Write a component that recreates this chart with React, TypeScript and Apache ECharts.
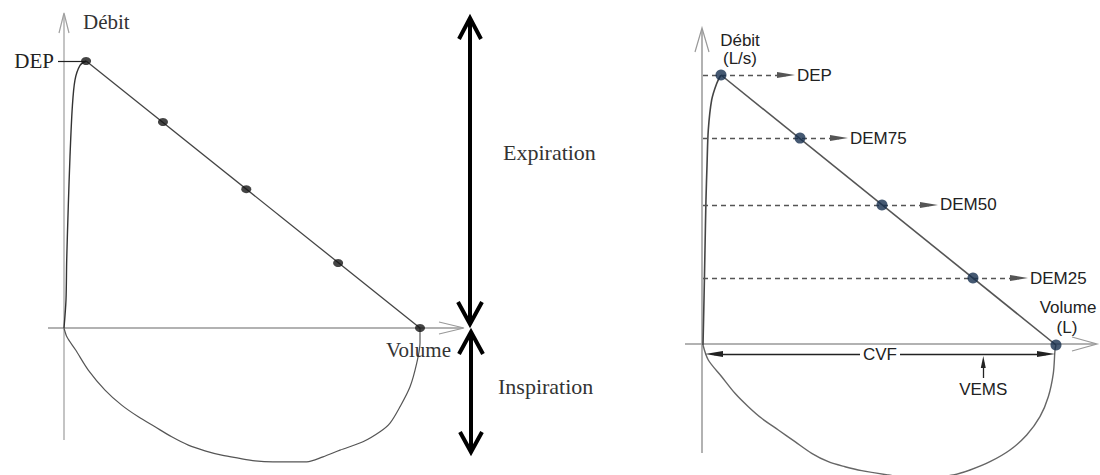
import React, { useEffect, useRef } from "react";
import * as echarts from "echarts";

// ---------------- Left panel data (volume L, flow L/s) ----------------
const leftRiseVolume = [0, 0.028, 0.038, 0.06, 0.084, 0.117, 0.154, 0.225, 0.31];
const leftRiseFlow = [0, 0.84, 2.04, 3.64, 5.13, 6.63, 7.43, 7.87, 8];
const leftPointVolume = [0.31, 1.39, 2.56, 3.85, 5.0];
const leftPointFlow = [8, 6.17, 4.16, 1.95, 0];
const leftInspVolume = [0, 0.042, 0.164, 0.341, 0.576, 0.81, 1.044, 1.278, 1.513, 1.746, 1.98, 2.215, 2.448, 2.683, 2.935, 3.409, 3.638, 3.876, 4.199, 4.438, 4.579, 4.719, 4.86, 4.954, 5.0, 5.0];
const leftInspFlow = [0, -0.27, -0.66, -1.26, -1.86, -2.31, -2.66, -2.96, -3.26, -3.51, -3.68, -3.81, -3.9, -3.98, -4.01, -4.01, -3.86, -3.66, -3.41, -3.11, -2.85, -2.36, -1.76, -1.05, -0.45, 0];
const leftDEP = 8;

// ---------------- Right panel data (volume L, flow L/s) ----------------
const rightRiseVolume = [0, 0.014, 0.028, 0.042, 0.057, 0.075, 0.123, 0.194, 0.255];
const rightRiseFlow = [0, 1.33, 2.81, 4.3, 5.33, 6.37, 7.26, 7.75, 8];
const rightPointNames = ["DEP", "DEM75", "DEM50", "DEM25"];
const rightPointVolume = [0.255, 1.374, 2.535, 3.824, 5.0];
const rightPointFlow = [8, 6.13, 4.15, 1.985, 0];
const rightInspVolume = [0, 0.075, 0.265, 0.453, 0.642, 0.831, 1.067, 1.303, 1.54, 1.775, 2.011, 2.248, 2.625, 2.932, 3.286, 3.545, 3.782, 4.065, 4.348, 4.585, 4.773, 4.891, 4.962, 4.986, 5.0];
const rightInspFlow = [0, -0.444, -0.939, -1.431, -1.828, -2.172, -2.519, -2.865, -3.209, -3.458, -3.606, -3.724, -3.852, -3.941, -3.911, -3.852, -3.704, -3.458, -3.111, -2.667, -2.124, -1.532, -0.839, -0.148, 0];
const rightCVF = 5.0;
const rightVEMS = 3.97;

// ---------------- Layout (pixels) ----------------
const W = 1100;
const H = 475;
const LP = { left: 0, width: 620, ox: 64, oy: 328, kx: 71.2, ky: 33.375 };
const RP = { left: 620, width: 480, ox: 703, oy: 345, kx: 70.6, ky: 33.75 };
const dashExtraPx = [65, 39, 47, 46];

const SERIF = '"Liberation Serif", "Times New Roman", serif';
const SANS = '"Liberation Sans", Arial, sans-serif';
const ARROW = "path://M5,0 L10,20 L0,20 Z";

const zip = (a: number[], b: number[]) => a.map((v, i) => [v, b[i]]);
const range = (p: typeof LP) => ({
  min: (p.left - p.ox) / p.kx,
  max: (p.left + p.width - p.ox) / p.kx,
  ymin: (p.oy - H) / p.ky,
  ymax: p.oy / p.ky,
});

const line = (x1: number, y1: number, x2: number, y2: number, stroke: string, lw: number) => ({
  type: "line",
  z: 0,
  silent: true,
  shape: { x1, y1, x2, y2 },
  style: { stroke, lineWidth: lw },
});
const poly = (pts: number[][], stroke: string, lw: number) => ({
  type: "polyline",
  z: 0,
  silent: true,
  shape: { points: pts },
  style: { stroke, lineWidth: lw, fill: "none", lineJoin: "miter" },
});
const text = (t: string, x: number, y: number, font: string, align = "left", fill = "#333") => ({
  type: "text",
  z: 10,
  silent: true,
  x,
  y,
  style: { text: t, font, fill, textAlign: align, textVerticalAlign: "middle" },
});

const sansLabel = { fontSize: 17, fontFamily: SANS, color: "#222" };

export default function App() {
  const ref = useRef<HTMLDivElement>(null);
  useEffect(() => {
    if (!ref.current) return;
    const chart = echarts.init(ref.current, undefined, { renderer: "svg" });
    const lr = range(LP);
    const rr = range(RP);
    const lv = (px: number) => (px - LP.ox) / LP.kx;
    const rf = (py: number) => (RP.oy - py) / RP.ky;

    const graphic: any[] = [
      // left axes
      line(64, 440, 64, 14, "#b0b0b0", 1.5),
      poly([[59, 33], [64, 13], [69, 33]], "#a0a0a0", 1.2),
      line(48, 328, 463, 328, "#999", 1.5),
      poly([[439, 322], [464, 328], [439, 334]], "#999", 1.2),
      // big arrows
      line(470, 18, 470, 324, "#000", 4),
      poly([[459, 39], [470, 18], [481, 39]], "#000", 4),
      poly([[458, 302], [470, 324], [482, 302]], "#000", 4),
      line(471, 332, 471, 452, "#000", 4),
      poly([[459, 354], [471, 332], [483, 354]], "#000", 4),
      poly([[460, 432], [471, 452], [482, 432]], "#000", 4),
      // right axes
      line(702, 453, 702, 29, "#999", 1.5),
      poly([[695, 52], [702, 28], [709, 52]], "#999", 1.2),
      line(685, 344, 1096, 344, "#999", 1.5),
      poly([[1072, 337], [1097, 344], [1072, 351]], "#999", 1.2),
      // left texts
      text("Débit", 83, 22, `21px ${SERIF}`),
      text("Volume", 386, 350, `21px ${SERIF}`),
      text("Expiration", 503, 152, `22px ${SERIF}`),
      text("Inspiration", 498, 386, `22px ${SERIF}`),
      // right texts
      text("Débit", 740, 40, `17px ${SANS}`, "center", "#222"),
      text("(L/s)", 740, 58, `17px ${SANS}`, "center", "#222"),
      text("Volume", 1068, 307, `17px ${SANS}`, "center", "#222"),
      text("(L)", 1067, 327, `17px ${SANS}`, "center", "#222"),
    ];

    const option: any = {
      animation: false,
      backgroundColor: "#fff",
      graphic,
      grid: [
        { left: LP.left, top: 0, width: LP.width, height: H, containLabel: false },
        { left: RP.left, top: 0, width: RP.width, height: H, containLabel: false },
      ],
      xAxis: [
        { type: "value", gridIndex: 0, min: lr.min, max: lr.max, show: false },
        { type: "value", gridIndex: 1, min: rr.min, max: rr.max, show: false },
      ],
      yAxis: [
        { type: "value", gridIndex: 0, min: lr.ymin, max: lr.ymax, show: false },
        { type: "value", gridIndex: 1, min: rr.ymin, max: rr.ymax, show: false },
      ],
      series: [
        // ----- left -----
        {
          type: "line",
          xAxisIndex: 0,
          yAxisIndex: 0,
          data: zip(leftRiseVolume, leftRiseFlow),
          smooth: 0.3,
          symbol: "none",
          lineStyle: { color: "#333", width: 1.4 },
          z: 3,
        },
        {
          type: "line",
          xAxisIndex: 0,
          yAxisIndex: 0,
          data: [
            [leftPointVolume[0], leftPointFlow[0]],
            [leftPointVolume[leftPointVolume.length - 1], leftPointFlow[leftPointFlow.length - 1]],
          ],
          symbol: "none",
          lineStyle: { color: "#444", width: 1.3 },
          z: 3,
        },
        {
          type: "line",
          xAxisIndex: 0,
          yAxisIndex: 0,
          data: zip(leftInspVolume, leftInspFlow),
          smooth: 0.3,
          symbol: "none",
          lineStyle: { color: "#555", width: 1.2 },
          z: 3,
        },
        {
          type: "scatter",
          xAxisIndex: 0,
          yAxisIndex: 0,
          data: zip(leftPointVolume, leftPointFlow),
          symbol: "circle",
          symbolSize: [10, 8],
          itemStyle: { color: "#151515" },
          z: 5,
          markLine: {
            silent: true,
            symbol: ["none", "none"],
            lineStyle: { color: "#222", width: 1.2, type: "solid" },
            label: {
              show: true,
              position: "start",
              distance: 4,
              formatter: (p: any) => p.name,
              fontSize: 21,
              fontFamily: SERIF,
              color: "#222",
            },
            data: [[{ name: "DEP", coord: [lv(58), leftDEP] }, { coord: [leftPointVolume[0], leftDEP] }]],
          },
        },
        // ----- right -----
        {
          type: "line",
          xAxisIndex: 1,
          yAxisIndex: 1,
          data: zip(rightRiseVolume, rightRiseFlow),
          smooth: 0.3,
          symbol: "none",
          lineStyle: { color: "#444", width: 1.6 },
          z: 3,
        },
        {
          type: "line",
          xAxisIndex: 1,
          yAxisIndex: 1,
          data: [
            [rightPointVolume[0], rightPointFlow[0]],
            [rightPointVolume[rightPointVolume.length - 1], rightPointFlow[rightPointFlow.length - 1]],
          ],
          symbol: "none",
          lineStyle: { color: "#555", width: 1.6 },
          z: 3,
        },
        {
          type: "line",
          xAxisIndex: 1,
          yAxisIndex: 1,
          data: zip(rightInspVolume, rightInspFlow),
          smooth: 0.3,
          symbol: "none",
          lineStyle: { color: "#666", width: 1.4 },
          z: 3,
        },
        {
          type: "line",
          xAxisIndex: 1,
          yAxisIndex: 1,
          data: [],
          markLine: {
            silent: true,
            symbol: ["none", ARROW],
            symbolSize: [6, 18],
            lineStyle: { color: "#555", width: 1.3, type: [5, 4] },
            label: {
              show: true,
              position: "end",
              distance: 11,
              formatter: (p: any) => p.name,
              ...sansLabel,
            },
            data: rightPointNames.map((name, i) => [
              { name, coord: [0, rightPointFlow[i]] },
              { coord: [rightPointVolume[i] + dashExtraPx[i] / RP.kx, rightPointFlow[i]] },
            ]),
          },
        },
        {
          type: "line",
          xAxisIndex: 1,
          yAxisIndex: 1,
          data: [],
          markLine: {
            silent: true,
            symbol: [ARROW, ARROW],
            symbolSize: [6, 18],
            lineStyle: { color: "#222", width: 1.3, type: "solid" },
            label: {
              show: true,
              position: "insideMiddle",
              formatter: (p: any) => p.name,
              ...sansLabel,
              backgroundColor: "#fff",
              padding: [0, 3],
            },
            data: [
              [
                { name: "CVF", coord: [11 / RP.kx, rf(354)] },
                { coord: [rightCVF - 10 / RP.kx, rf(354)] },
              ],
            ],
          },
        },
        {
          type: "line",
          xAxisIndex: 1,
          yAxisIndex: 1,
          data: [],
          markLine: {
            silent: true,
            symbol: ["none", ARROW],
            symbolSize: [5, 12],
            lineStyle: { color: "#222", width: 1.3, type: "solid" },
            label: {
              show: true,
              position: "start",
              distance: 3,
              formatter: (p: any) => p.name,
              ...sansLabel,
            },
            data: [[{ name: "VEMS", coord: [rightVEMS, rf(378)] }, { coord: [rightVEMS, rf(362)] }]],
          },
        },
        {
          type: "scatter",
          xAxisIndex: 1,
          yAxisIndex: 1,
          data: zip(rightPointVolume, rightPointFlow),
          symbol: "circle",
          symbolSize: 11,
          itemStyle: { color: "#16304f" },
          z: 6,
        },
      ],
    };
    chart.setOption(option);
    return () => chart.dispose();
  }, []);
  return (
    <div
      ref={ref}
      style={{ position: "fixed", left: 0, top: 0, width: W, height: H, background: "#fff" }}
    />
  );
}
